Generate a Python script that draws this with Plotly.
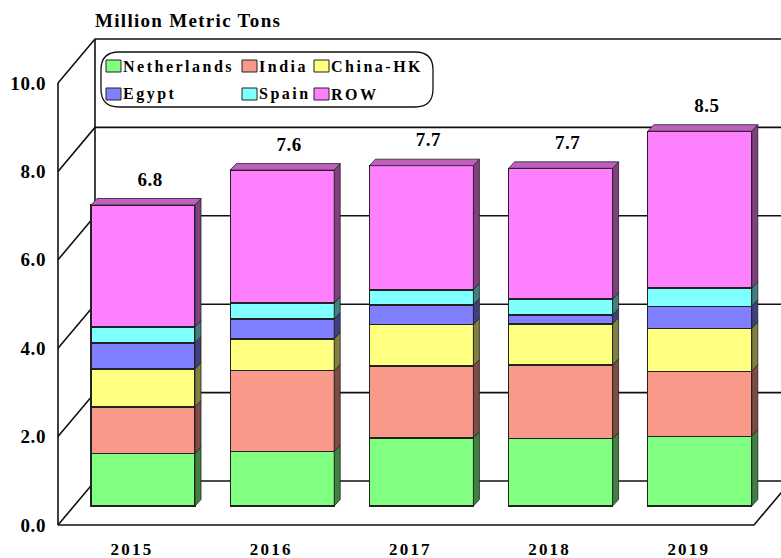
import numpy as np
import plotly.graph_objects as go

years = ["2015", "2016", "2017", "2018", "2019"]
total_labels = ["6.8", "7.6", "7.7", "7.7", "8.5"]
netherlands = [1.19, 1.23, 1.54, 1.52, 1.58]
india = [1.05, 1.83, 1.63, 1.67, 1.47]
china_hk = [0.86, 0.72, 0.93, 0.93, 0.97]
egypt = [0.59, 0.45, 0.45, 0.20, 0.50]
spain = [0.36, 0.36, 0.34, 0.36, 0.41]
row = [2.76, 3.01, 2.81, 2.96, 3.55]
y_ticks = [0, 2, 4, 6, 8, 10]

series = [
    ("Netherlands", netherlands, "#80FF80", "#408040"),
    ("India", india, "#F9998A", "#7D4D45"),
    ("China-HK", china_hk, "#FFFF80", "#808040"),
    ("Egypt", egypt, "#8080FF", "#404080"),
    ("Spain", spain, "#80FFFF", "#408080"),
    ("ROW", row, "#FF80FF", "#804080"),
]
TOP_COLOR = "#BF60BF"

W, H = 781, 558
PX_X = 139.2   # pixels per category
PX_Y = 44.2    # pixels per value unit
FIRST_CENTER = 143
LEFT, DOMAIN_LEFT = 58, 50
FLOOR_FRONT, FLOOR_BAR = 525, 506
WALL_DX = 37 / PX_X
WALL_DY = 44 / PX_Y
BAR_W = 104 / PX_X
BAR_DX = 6 / PX_X
BAR_DY = 6.5 / PX_Y
LINE = "#111111"
BAR_LINE = "#222222"

xrange_ = [(DOMAIN_LEFT - FIRST_CENTER) / PX_X, (W - FIRST_CENTER) / PX_X]
x_left = (LEFT - FIRST_CENTER) / PX_X
x_front_right = (754 - FIRST_CENTER) / PX_X

fig = go.Figure()

# walls and floor, on the primary axes so the bars cover them
fx, fy = [], []
fx += [x_left, x_left, None, x_left + WALL_DX, x_left + WALL_DX, None]
fy += [0, y_ticks[-1], None, WALL_DY, y_ticks[-1] + WALL_DY, None]
for t in y_ticks:
    fx += [x_left, x_left + WALL_DX, x_front_right + WALL_DX, None]
    fy += [t, t + WALL_DY, t + WALL_DY, None]
fx += [x_left, x_front_right, x_front_right + WALL_DX]
fy += [0, 0, WALL_DY]
fig.add_trace(go.Scatter(x=fx, y=fy, mode="lines", line=dict(color=LINE, width=1.6),
                         hoverinfo="skip", showlegend=False, cliponaxis=False))

# stacked bars on overlay axes
pos = np.arange(len(years))
bottom = np.zeros(len(years))
for name, vals, col, side in series:
    vals = np.array(vals)
    fig.add_trace(go.Bar(x=pos, y=vals, name=name, width=BAR_W, xaxis="x2", yaxis="y2",
                         marker=dict(color=col, line=dict(color=BAR_LINE, width=1.3)),
                         showlegend=False))
    sx, sy = [], []
    for i in pos:
        r = i + BAR_W / 2
        lo, hi = bottom[i], bottom[i] + vals[i]
        sx += [r, r + BAR_DX, r + BAR_DX, r, r, None]
        sy += [lo, lo + BAR_DY, hi + BAR_DY, hi, lo, None]
    fig.add_trace(go.Scatter(x=sx, y=sy, mode="lines", fill="toself", fillcolor=side,
                             line=dict(color=BAR_LINE, width=0.8), xaxis="x2", yaxis="y2",
                             hoverinfo="skip", showlegend=False))
    bottom = bottom + vals

tx, ty = [], []
for i in pos:
    l, r = i - BAR_W / 2, i + BAR_W / 2
    tx += [l, l + BAR_DX, r + BAR_DX, r, l, None]
    ty += [bottom[i], bottom[i] + BAR_DY, bottom[i] + BAR_DY, bottom[i], bottom[i], None]
fig.add_trace(go.Scatter(x=tx, y=ty, mode="lines", fill="toself", fillcolor=TOP_COLOR,
                         line=dict(color=BAR_LINE, width=0.8), xaxis="x2", yaxis="y2",
                         hoverinfo="skip", showlegend=False))

fig.add_trace(go.Scatter(x=pos + 7 / PX_X, y=bottom + 24 / PX_Y, mode="text", text=total_labels,
                         textposition="middle center",
                         textfont=dict(family="Liberation Serif", size=19, color="#000000"),
                         texttemplate="<b>%{text}</b>",
                         xaxis="x2", yaxis="y2", hoverinfo="skip", showlegend=False))

# legend key inside a rounded box
def px(x): return x / W
def py(y): return 1 - y / H

L, R, T, B, C = 101, 433, 52, 107, 18
box = (f"M{px(L+C)},{py(T)} L{px(R-C)},{py(T)} Q{px(R)},{py(T)} {px(R)},{py(T+C)} "
       f"L{px(R)},{py(B-C)} Q{px(R)},{py(B)} {px(R-C)},{py(B)} L{px(L+C)},{py(B)} "
       f"Q{px(L)},{py(B)} {px(L)},{py(B-C)} L{px(L)},{py(T+C)} Q{px(L)},{py(T)} {px(L+C)},{py(T)} Z")
shapes = [dict(type="path", xref="paper", yref="paper", path=box,
               line=dict(color="#111111", width=1.3), fillcolor="rgba(0,0,0,0)")]
annotations = []
key_x = [106, 242, 314, 106, 242, 314]
key_y = [60, 60, 60, 88, 88, 88]
for (name, _, col, _s), kx, ky in zip(series, key_x, key_y):
    shapes.append(dict(type="rect", xref="paper", yref="paper", x0=px(kx), x1=px(kx + 15),
                       y0=py(ky), y1=py(ky + 12), fillcolor=col, line=dict(color="#222222", width=1)))
    annotations.append(dict(xref="paper", yref="paper", x=px(kx + 15), y=py(ky + 6),
                            xanchor="left", yanchor="middle", align="left", showarrow=False,
                            text=f"<b>{name}</b>",
                            font=dict(family="Liberation Serif", size=16, color="#000000")))

fig.update_layout(
    width=W, height=H, margin=dict(l=0, r=0, t=0, b=0, autoexpand=False),
    paper_bgcolor="#FFFFFF", plot_bgcolor="rgba(0,0,0,0)",
    barmode="stack", showlegend=False, shapes=shapes, annotations=annotations,
    font=dict(family="Liberation Serif", color="#000000"),
    title=dict(text="<b>Million Metric Tons</b>", x=95 / W, xanchor="left", xref="paper",
               y=1 - 20 / H, yanchor="middle", yref="paper",
               font=dict(family="Liberation Serif", size=19, color="#000000")),
    xaxis=dict(domain=[DOMAIN_LEFT / W, 1], range=xrange_, anchor="free",
               position=(H - FLOOR_FRONT) / H, showgrid=False, zeroline=False, showline=False,
               tickmode="array", tickvals=list(pos - 11 / PX_X), ticktext=[f"<b>{y}</b>" for y in years],
               ticks="", ticklabelstandoff=12, tickfont=dict(family="Liberation Serif", size=17)),
    yaxis=dict(domain=[0, 1], range=[-(H - FLOOR_FRONT) / PX_Y, FLOOR_FRONT / PX_Y],
               anchor="x", showgrid=False, zeroline=False, showline=False,
               tickmode="array", tickvals=y_ticks, ticktext=[f"<b>{t:.1f}</b>" for t in y_ticks],
               ticks="", ticklabelstandoff=3, tickfont=dict(family="Liberation Serif", size=19)),
    xaxis2=dict(domain=[DOMAIN_LEFT / W, 1], range=xrange_, overlaying="x", anchor="y2", visible=False),
    yaxis2=dict(domain=[0, 1], range=[-(H - FLOOR_BAR) / PX_Y, FLOOR_BAR / PX_Y],
                overlaying="y", anchor="x2", visible=False),
)

css = """
body{margin:0;overflow:hidden}
.gtitle{letter-spacing:1.3px}
.xtick text{letter-spacing:2.2px}
.ytick text{letter-spacing:0.6px}
.textpoint text{letter-spacing:0.5px}
.annotation text{letter-spacing:2.5px}
"""
post = ("var s=document.createElement('style');s.textContent=" + repr(css.replace("\n", " ")) +
        ";document.head.appendChild(s);")
fig.write_html("out.html", post_script=post, config={"displayModeBar": False})
